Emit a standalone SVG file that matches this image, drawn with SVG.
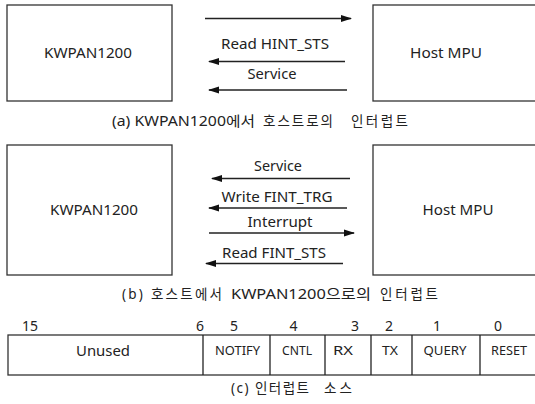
<svg xmlns="http://www.w3.org/2000/svg" width="535" height="404" viewBox="0 0 535 404">
<style>
text{font-family:"Noto Sans","Noto Sans CJK KR",sans-serif;font-size:14px;fill:#222;text-anchor:middle}
.sm{font-size:13px}
.cap{text-anchor:start;font-size:13.5px}
.box{fill:#fff;stroke:#333;stroke-width:1.3}
.ln{stroke:#222;stroke-width:1.3;fill:none}
</style>
<defs>
<marker id="ah" markerWidth="11" markerHeight="8" refX="10" refY="4" orient="auto" markerUnits="userSpaceOnUse">
<path d="M0,0.5 L11,4 L0,7.5 Z" fill="#111"/>
</marker>
</defs>
<rect width="535" height="404" fill="#fff"/>
<g id="a-kwpan"><rect class="box" x="7" y="5" width="165" height="96"/><text x="88" y="58" textLength="88" lengthAdjust="spacingAndGlyphs">KWPAN1200</text></g>
<g id="a-host"><rect class="box" x="373" y="5" width="180" height="96"/><text x="446" y="58" textLength="72" lengthAdjust="spacingAndGlyphs">Host MPU</text></g>
<g id="a-connectors">
<line class="ln" x1="205" y1="18.5" x2="351" y2="18.5" marker-end="url(#ah)"/>
<text x="275" y="49" textLength="108" lengthAdjust="spacingAndGlyphs">Read HINT_STS</text>
<line class="ln" x1="345" y1="61.5" x2="209" y2="61.5" marker-end="url(#ah)"/>
<text x="272" y="79" textLength="49" lengthAdjust="spacingAndGlyphs">Service</text>
<line class="ln" x1="347" y1="90" x2="209" y2="90" marker-end="url(#ah)"/>
</g>
<g id="cap-a">
<text class="cap" x="112" y="126" textLength="143" lengthAdjust="spacingAndGlyphs">(a) KWPAN1200에서</text>
<text class="cap" x="263" y="126" textLength="70" lengthAdjust="spacing">호스트로의</text>
<text class="cap" x="351" y="126" textLength="57" lengthAdjust="spacing">인터럽트</text>
</g>
<g id="b-kwpan"><rect class="box" x="7" y="145" width="165" height="130"/><text x="94" y="215" textLength="88" lengthAdjust="spacingAndGlyphs">KWPAN1200</text></g>
<g id="b-host"><rect class="box" x="373" y="145" width="180" height="130"/><text x="458" y="215" textLength="71" lengthAdjust="spacingAndGlyphs">Host MPU</text></g>
<g id="b-connectors">
<text x="278" y="171" textLength="48" lengthAdjust="spacingAndGlyphs">Service</text>
<line class="ln" x1="350" y1="178.5" x2="212" y2="178.5" marker-end="url(#ah)"/>
<text x="277" y="202" textLength="111" lengthAdjust="spacingAndGlyphs">Write FINT_TRG</text>
<line class="ln" x1="347" y1="208" x2="209" y2="208" marker-end="url(#ah)"/>
<text x="280" y="227" textLength="65" lengthAdjust="spacingAndGlyphs">Interrupt</text>
<line class="ln" x1="209" y1="233" x2="354" y2="233" marker-end="url(#ah)"/>
<text x="274" y="257.5" textLength="104" lengthAdjust="spacingAndGlyphs">Read FINT_STS</text>
<line class="ln" x1="343" y1="263.5" x2="206" y2="263.5" marker-end="url(#ah)"/>
</g>
<g id="cap-b">
<text class="cap" x="122" y="299" textLength="100" lengthAdjust="spacing">(b) 호스트에서</text>
<text class="cap" x="231" y="299" textLength="140" lengthAdjust="spacingAndGlyphs">KWPAN1200으로의</text>
<text class="cap" x="380" y="299" textLength="58" lengthAdjust="spacing">인터럽트</text>
</g>
<g id="c-register">
<rect class="box" x="8" y="335" width="540" height="40"/>
<line class="ln" x1="203" y1="335" x2="203" y2="375"/>
<line class="ln" x1="270" y1="335" x2="270" y2="375"/>
<line class="ln" x1="325" y1="335" x2="325" y2="375"/>
<line class="ln" x1="371" y1="335" x2="371" y2="375"/>
<line class="ln" x1="412" y1="335" x2="412" y2="375"/>
<line class="ln" x1="480" y1="335" x2="480" y2="375"/>
<text x="30" y="331">15</text>
<text x="200" y="331">6</text>
<text x="234" y="331">5</text>
<text x="293.5" y="331">4</text>
<text x="355" y="331">3</text>
<text x="389" y="331">2</text>
<text x="437" y="331">1</text>
<text x="498" y="331">0</text>
<text x="103" y="356" textLength="54" lengthAdjust="spacingAndGlyphs">Unused</text>
<text class="sm" x="237.5" y="354.5" textLength="45" lengthAdjust="spacingAndGlyphs">NOTIFY</text>
<text class="sm" x="297" y="354.5" textLength="30" lengthAdjust="spacingAndGlyphs">CNTL</text>
<text class="sm" x="343" y="354.5" textLength="20" lengthAdjust="spacingAndGlyphs">RX</text>
<text class="sm" x="390" y="354.5" textLength="16" lengthAdjust="spacingAndGlyphs">TX</text>
<text class="sm" x="445" y="354.5" textLength="43" lengthAdjust="spacingAndGlyphs">QUERY</text>
<text class="sm" x="509" y="354.5" textLength="36" lengthAdjust="spacingAndGlyphs">RESET</text>
</g>
<g id="cap-c">
<text class="cap" x="231" y="393" textLength="78" lengthAdjust="spacing">(c) 인터럽트</text>
<text class="cap" x="324" y="393" textLength="28" lengthAdjust="spacing">소스</text>
</g>
</svg>
